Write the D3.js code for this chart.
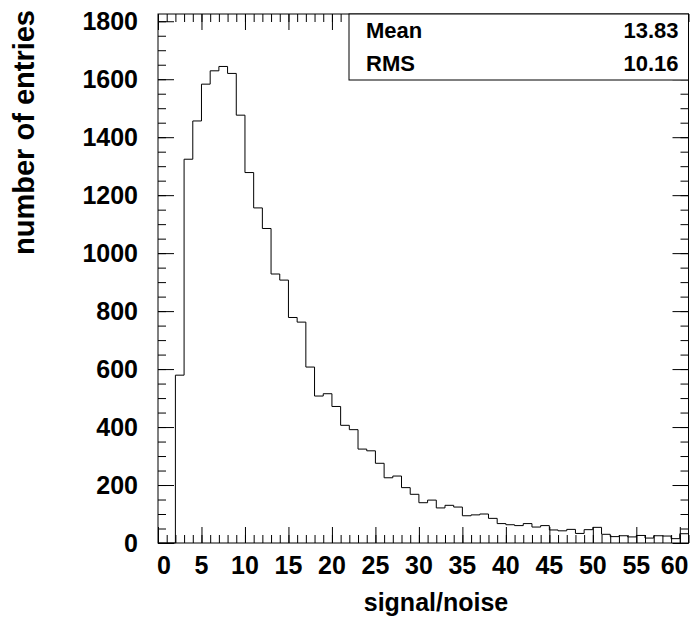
<!DOCTYPE html>
<html>
<head>
<meta charset="utf-8">
<script src="https://cdn.jsdelivr.net/npm/d3@7/dist/d3.min.js"></script>
<style>
body{margin:0;background:#fff;}
svg text{font-family:'Liberation Sans',Arial,Helvetica,sans-serif;font-weight:bold;fill:#000;}
</style>
</head>
<body>
<svg id="chart" width="693" height="633"></svg>
<script>
'use strict';

// histogram: 61 bins of width 1 starting at 0
var binLow=0
  , binWidth=1
  , counts=[0,0,579,1324,1456,1583,1629,1644,1620,1476,
            1278,1156,1085,928,907,778,762,607,507,515,
            471,406,391,324,318,275,225,231,191,168,
            139,148,121,130,124,94,97,100,85,67,
            63,60,67,55,60,45,42,47,33,46,
            54,30,22,25,21,26,17,25,24,15,
            32]
  , xMajor=[0,5,10,15,20,25,30,35,40,45,50,55,60]
  , yMajor=[0,200,400,600,800,1000,1200,1400,1600,1800]
  , xRange=[0,61]
  , yRange=[0,1825]
  , statNames=['Mean','RMS']
  , statValues=['13.83','10.16']
  , xTitle='signal/noise'
  , yTitle='number of entries'

var frame={left:158,right:688.5,top:14,bottom:543}
  , svg=d3.select('#chart')
  , x=d3.scaleLinear().domain(xRange).range([frame.left,frame.right])
  , y=d3.scaleLinear().domain(yRange).range([frame.bottom,frame.top])
  , xMinor=d3.range(xRange[0],xRange[1]+1,1)
  , yMinor=d3.range(yRange[0],yRange[1],50)

svg.append('svg:rect')
    .attr('width',693)
    .attr('height',633)
    .attr('fill','#fff');

// ticks on all four sides, pointing into the frame
function ticks(axis,vals,size,pos,trans){
    svg.append('svg:g')
        .attr('transform',trans)
        .call(axis(pos).tickValues(vals).tickSize(size).tickFormat(''))
        .call(function(g){
            g.select('.domain').remove();
            g.selectAll('line').attr('stroke','#000').attr('stroke-width',1);
        });
}
ticks(d3.axisBottom,xMinor,-8,x,'translate(0,'+frame.bottom+')');
ticks(d3.axisBottom,xMajor,-16,x,'translate(0,'+frame.bottom+')');
ticks(d3.axisTop,xMinor,-8,x,'translate(0,'+frame.top+')');
ticks(d3.axisTop,xMajor,-16,x,'translate(0,'+frame.top+')');
ticks(d3.axisLeft,yMinor,-8,y,'translate('+frame.left+',0)');
ticks(d3.axisLeft,yMajor,-16,y,'translate('+frame.left+',0)');
ticks(d3.axisRight,yMinor,-8,y,'translate('+frame.right+',0)');
ticks(d3.axisRight,yMajor,-16,y,'translate('+frame.right+',0)');

// histogram outline
var pts=counts.map(function(c,i){
        return [binLow+i*binWidth,c];
    });
pts.push([binLow+counts.length*binWidth,counts[counts.length-1]]);

svg.append('svg:path')
    .attr('d',d3.line()
        .x(function(d){return x(d[0]);})
        .y(function(d){return y(d[1]);})
        .curve(d3.curveStepAfter)(pts))
    .attr('fill','none')
    .attr('stroke','#000')
    .attr('stroke-width',1);

// frame
svg.append('svg:rect')
    .attr('x',frame.left)
    .attr('y',frame.top)
    .attr('width',frame.right-frame.left)
    .attr('height',frame.bottom-frame.top)
    .attr('fill','none')
    .attr('stroke','#000')
    .attr('stroke-width',1);

// x labels, kept inside the frame at both ends
svg.append('svg:g').selectAll('text')
    .data(xMajor)
    .enter().append('svg:text')
    .attr('x',function(d){return x(d);})
    .attr('y',frame.bottom+31)
    .attr('text-anchor','middle')
    .style('font-size','25px')
    .text(function(d){return d;})
    .each(function(d){
        var w=this.getComputedTextLength()
          , cx=x(d)
        if(cx-w/2<frame.left-1)cx=frame.left-1+w/2;
        if(cx+w/2>frame.right)cx=frame.right-w/2;
        d3.select(this).attr('x',cx);
    });

svg.append('svg:g').selectAll('text')
    .data(yMajor)
    .enter().append('svg:text')
    .attr('x',frame.left-20)
    .attr('y',function(d){return y(d);})
    .attr('dy','0.36em')
    .attr('text-anchor','end')
    .style('font-size','25px')
    .text(function(d){return d;});

// axis titles
svg.append('svg:text')
    .attr('x',436)
    .attr('y',611)
    .attr('text-anchor','middle')
    .style('font-size','25px')
    .text(xTitle);

svg.append('svg:text')
    .attr('transform','translate(34,10) rotate(-90)')
    .attr('text-anchor','end')
    .style('font-size','29px')
    .text(yTitle);

// stats box
var box={left:349,top:frame.top,right:frame.right,bottom:80}
  , rowH=(box.bottom-box.top)/statNames.length

svg.append('svg:rect')
    .attr('x',box.left)
    .attr('y',box.top)
    .attr('width',box.right-box.left)
    .attr('height',box.bottom-box.top)
    .attr('fill','#fff')
    .attr('stroke','#000')
    .attr('stroke-width',1);

statNames.forEach(function(n,i){
    var by=box.top+rowH*(i+0.5)
    svg.append('svg:text')
        .attr('x',box.left+17)
        .attr('y',by)
        .attr('dy','0.36em')
        .style('font-size','22px')
        .text(n);
    svg.append('svg:text')
        .attr('x',box.right-10)
        .attr('y',by)
        .attr('dy','0.36em')
        .attr('text-anchor','end')
        .style('font-size','22px')
        .text(statValues[i]);
});
</script>
</body>
</html>
